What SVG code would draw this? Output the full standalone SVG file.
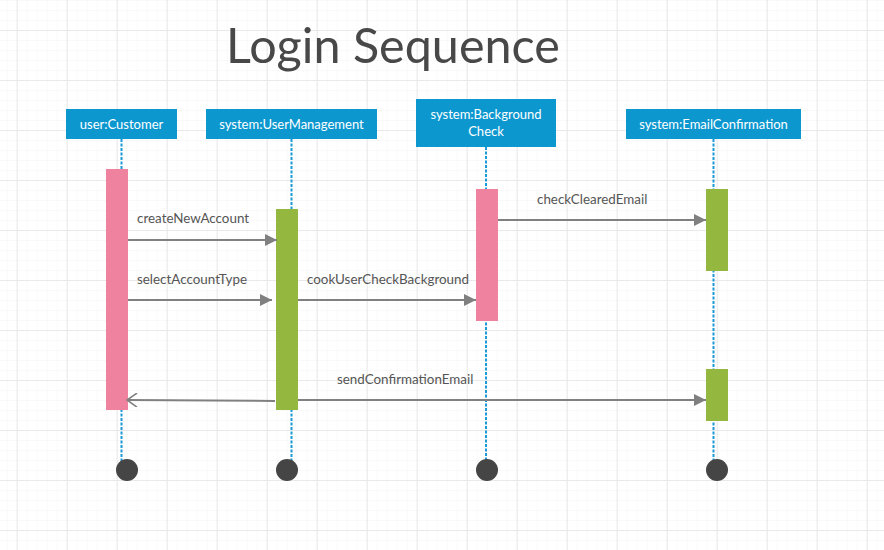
<svg xmlns="http://www.w3.org/2000/svg" width="884" height="550" viewBox="0 0 884 550">
<defs>
<pattern id="minor" x="6.7" y="0" width="10" height="10" patternUnits="userSpaceOnUse">
<path d="M0 0H10M0 0V10" fill="none" stroke="#f4f4f4" stroke-width="1"/>
</pattern>
<pattern id="major" x="16.7" y="30" width="50" height="50" patternUnits="userSpaceOnUse">
<path d="M0 0H50M0 0V50" fill="none" stroke="#e9e9e9" stroke-width="2"/>
</pattern>
<marker id="fill" viewBox="0 0 12 12" refX="12" refY="6" markerWidth="12" markerHeight="12" markerUnits="userSpaceOnUse" orient="auto">
<path d="M0 0L12 6L0 12Z" fill="#808080"/>
</marker>
<marker id="open" viewBox="0 0 12 14" refX="11" refY="7" markerWidth="12" markerHeight="14" markerUnits="userSpaceOnUse" orient="auto">
<path d="M1 0L11 7L1 14" fill="none" stroke="#808080" stroke-width="1.6"/>
</marker>
</defs>
<style>
.box{fill:#0d97cf}
.bt{font-family:Lato,"Liberation Sans",sans-serif;font-size:13px;fill:#ffffff;text-anchor:middle}
.life{stroke:#1a9ad6;stroke-width:2;stroke-dasharray:3 1.5}
.pink{fill:#ee829f}
.green{fill:#94b83f}
.end{fill:#454545}
.msg{stroke:#808080;stroke-width:2;fill:none}
.lbl{font-family:Lato,"Liberation Sans",sans-serif;font-size:13.4px;fill:#555555}
</style>
<rect width="884" height="550" fill="#ffffff"/>
<rect width="884" height="550" fill="url(#minor)"/>
<rect width="884" height="550" fill="url(#major)"/>
<text x="393" y="63" font-family="Lato,'Liberation Sans',sans-serif" font-size="48.5" fill="#484848" text-anchor="middle">Login Sequence</text>

<g id="customer">
<line class="life" x1="121.5" y1="139" x2="121.5" y2="462"/>
<rect class="box" x="66" y="109" width="111" height="30"/>
<text class="bt" x="121.5" y="129">user:Customer</text>
<rect class="pink" x="106" y="169" width="22" height="241"/>
<circle class="end" cx="127" cy="470" r="11"/>
</g>
<g id="usermanagement">
<line class="life" x1="291.5" y1="139" x2="291.5" y2="462"/>
<rect class="box" x="206" y="109" width="171" height="30"/>
<text class="bt" x="291.5" y="129">system:UserManagement</text>
<rect class="green" x="276" y="209" width="22" height="201"/>
<circle class="end" cx="287" cy="470" r="11"/>
</g>
<g id="backgroundcheck">
<line class="life" x1="486" y1="147" x2="486" y2="462"/>
<rect class="box" x="416" y="99" width="140" height="48"/>
<text class="bt" x="486" y="119">system:Background</text>
<text class="bt" x="486" y="136">Check</text>
<rect class="pink" x="476" y="189" width="22" height="132"/>
<circle class="end" cx="487" cy="470" r="11"/>
</g>
<g id="emailconfirmation">
<line class="life" x1="713.5" y1="139" x2="713.5" y2="462"/>
<rect class="box" x="626" y="109" width="175" height="30"/>
<text class="bt" x="713.5" y="129">system:EmailConfirmation</text>
<rect class="green" x="706" y="189" width="22" height="82"/>
<rect class="green" x="706" y="369" width="22" height="52"/>
<circle class="end" cx="717" cy="470" r="11"/>
</g>

<g id="connectors">
<line class="msg" x1="128" y1="240" x2="277" y2="240" marker-end="url(#fill)"/>
<text class="lbl" x="137" y="223">createNewAccount</text>
<line class="msg" x1="128" y1="300" x2="272" y2="300" marker-end="url(#fill)"/>
<text class="lbl" x="137" y="284">selectAccountType</text>
<line class="msg" x1="298" y1="300" x2="476" y2="300" marker-end="url(#fill)"/>
<text class="lbl" x="307" y="284">cookUserCheckBackground</text>
<line class="msg" x1="498" y1="220" x2="706" y2="220" marker-end="url(#fill)"/>
<text class="lbl" x="537" y="204">checkClearedEmail</text>
<line class="msg" x1="298" y1="400" x2="706" y2="400" marker-end="url(#fill)"/>
<text class="lbl" x="337" y="384">sendConfirmationEmail</text>
<line class="msg" x1="275" y1="401" x2="127" y2="400" marker-end="url(#open)"/>
</g>
</svg>
